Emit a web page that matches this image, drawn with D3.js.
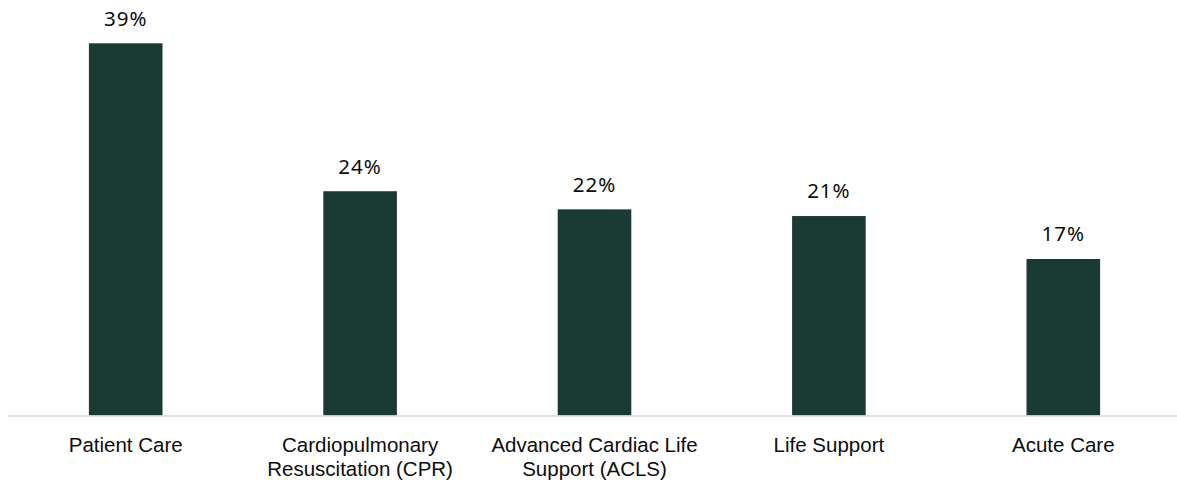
<!DOCTYPE html>
<html>
<head>
<meta charset="utf-8">
<script src="https://cdn.jsdelivr.net/npm/d3@7"></script>
<style>
  html, body { margin: 0; padding: 0; background: #fff; }
  svg { display: block; font-family: "Noto Sans", sans-serif; }
</style>
</head>
<body>
<svg id="chart" width="1177" height="487"></svg>
<script>
const categories = [
  ['Patient Care'],
  ['Cardiopulmonary', 'Resuscitation (CPR)'],
  ['Advanced Cardiac Life', 'Support (ACLS)'],
  ['Life Support'],
  ['Acute Care']
];
const values = [39, 23.5, 21.6, 20.9, 16.4];
const valueLabels = ['39%', '24%', '22%', '21%', '17%'];

const width = 1177;
const height = 487;
const baseY = 415.5;

const svg = d3.select('#chart');

const x = d3.scaleBand()
  .domain(d3.range(categories.length))
  .range([8.5, 1180.5])
  .paddingInner(0.686)
  .paddingOuter(0.343);

const y = d3.scaleLinear()
  .domain([0, 39])
  .range([baseY, 43.3]);

// bars
svg.append('g')
  .selectAll('rect')
  .data(values)
  .join('rect')
  .attr('x', (d, i) => x(i))
  .attr('y', d => y(d))
  .attr('width', x.bandwidth())
  .attr('height', d => baseY - y(d))
  .attr('fill', '#1c3a34');

// value labels
svg.append('g')
  .selectAll('text')
  .data(values)
  .join('text')
  .attr('x', (d, i) => x(i) + x.bandwidth() / 2)
  .attr('y', d => y(d) - 17.6)
  .attr('text-anchor', 'middle')
  .attr('font-size', 20.5)
  .attr('letter-spacing', 1)
  .attr('fill', '#0d0d0d')
  .text((d, i) => valueLabels[i]);

// x axis
const axis = svg.append('g')
  .attr('transform', `translate(0,${baseY + 0.5})`)
  .call(d3.axisBottom(x).tickSize(0).tickSizeOuter(0).tickFormat(''));

axis.select('.domain')
  .attr('stroke', '#d9d9d9')
  .attr('stroke-width', 1.5)
  .attr('d', `M8,0H${width}`);

axis.selectAll('.tick text').remove();
axis.selectAll('.tick')
  .append('text')
  .attr('text-anchor', 'middle')
  .attr('font-size', 20.5)
  .attr('fill', '#0d0d0d')
  .selectAll('tspan')
  .data((d, i) => categories[i])
  .join('tspan')
  .attr('x', 0)
  .attr('y', (d, j) => 35.5 + j * 24)
  .text(d => d);
</script>
</body>
</html>
